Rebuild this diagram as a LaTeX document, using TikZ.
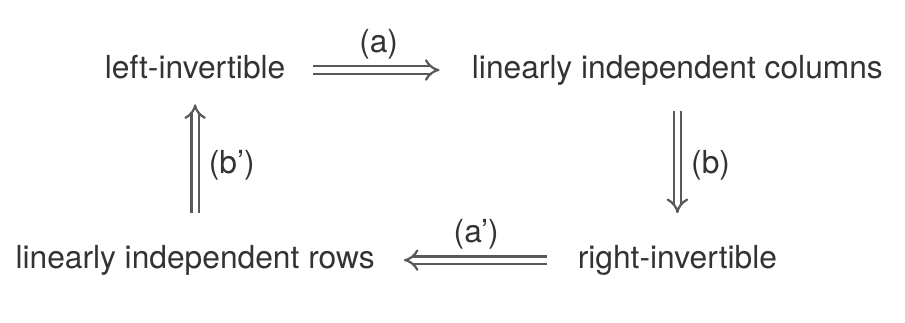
\documentclass[tikz,border=0pt]{standalone}
\usepackage{fontspec}
\setmainfont{TeX Gyre Heros}
\usepackage{xcolor}
\usetikzlibrary{arrows.meta,positioning}

\begin{document}
\begin{tikzpicture}[
   term/.style={inner sep=2pt, text height=7.2pt, text depth=2pt,
                text=black!80, font=\fontsize{10}{12}\selectfont},
   imp/.style={draw=black!65, line width=0.7pt, double, double distance=1.6pt,
               -{Implies}},
   tag/.style={text=black!80, font=\fontsize{10}{12}\selectfont, inner sep=2pt}
]
\useasboundingbox (0,0) rectangle (10.02,-3.565);
% Corners of the square
\node[term] (linv) at (2.16,-0.775) {left-invertible};
\node[term] (cols) at (7.50,-0.775) {linearly independent columns};
\node[term] (rows) at (2.16,-2.88) {linearly independent rows};
\node[term] (rinv) at (7.50,-2.88) {right-invertible};

% Implications
\draw[imp, shorten <=6.6pt, shorten >=8pt] (linv) -- node[tag, above=1pt] {(a)} (cols);
\draw[imp, shorten <=6pt, shorten >=8pt] (cols) -- node[tag, right=2pt] {(b)} (rinv);
\draw[imp, shorten <=7.5pt, shorten >=7pt] (rinv) -- node[tag, above=1pt] {(a')} (rows);
\draw[imp, shorten <=8pt, shorten >=4pt] (rows) -- node[tag, right=2pt] {(b')} (linv);
\end{tikzpicture}
\end{document}
